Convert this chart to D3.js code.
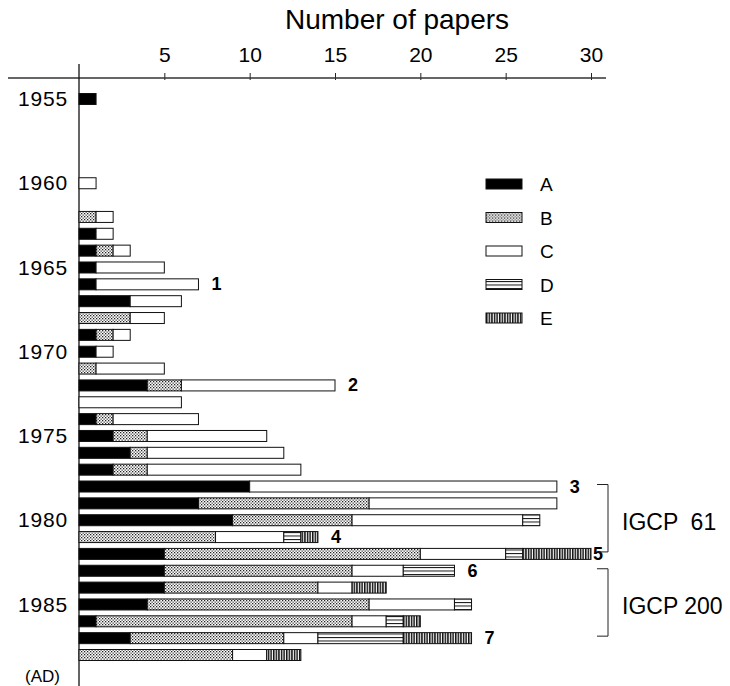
<!DOCTYPE html>
<html>
<head>
<meta charset="utf-8">
<script src="https://cdn.jsdelivr.net/npm/d3@7"></script>
<style>
  body { margin: 0; background: #fff; }
  svg { display: block; font-family: "Liberation Sans", Arial, sans-serif; }
</style>
</head>
<body>
<svg id="chart" width="730" height="686"></svg>
<script>
// papers per year, split by category
const years = [1955, 1960, 1962, 1963, 1964, 1965, 1966, 1967, 1968, 1969, 1970,
  1971, 1972, 1973, 1974, 1975, 1976, 1977, 1978, 1979, 1980,
  1981, 1982, 1983, 1984, 1985, 1986, 1987, 1988]
const catA = [1, 0, 0, 1, 1, 1, 1, 3, 0, 1, 1, 0, 4, 0, 1, 2, 3, 2, 10, 7, 9, 0, 5, 5, 5, 4, 1, 3, 0]
const catB = [0, 0, 1, 0, 1, 0, 0, 0, 3, 1, 0, 1, 2, 0, 1, 2, 1, 2, 0, 10, 7, 8, 15, 11, 9, 13, 15, 9, 9]
const catC = [0, 1, 1, 1, 1, 4, 6, 3, 2, 1, 1, 4, 9, 6, 5, 7, 8, 9, 18, 11, 10, 4, 5, 3, 2, 5, 2, 2, 2]
const catD = [0, 0, 0, 0, 0, 0, 0, 0, 0, 0, 0, 0, 0, 0, 0, 0, 0, 0, 0, 0, 1, 1, 1, 3, 0, 1, 1, 5, 0]
const catE = [0, 0, 0, 0, 0, 0, 0, 0, 0, 0, 0, 0, 0, 0, 0, 0, 0, 0, 0, 0, 0, 1, 4, 0, 2, 0, 1, 4, 2]
const categories = ['A', 'B', 'C', 'D', 'E']
const xTicks = [5, 10, 15, 20, 25, 30]
const yearTicks = [1955, 1960, 1965, 1970, 1975, 1980, 1985]
// numbered notes at the end of some bars
const notes = [
  { year: 1966, label: '1' }, { year: 1972, label: '2' }, { year: 1978, label: '3' },
  { year: 1981, label: '4' }, { year: 1982, label: '5' }, { year: 1983, label: '6' },
  { year: 1987, label: '7' }
]
const projects = [
  { name: 'IGCP  61', from: 1978, to: 1982 },
  { name: 'IGCP 200', from: 1983, to: 1987 }
]

const rows = years.map((yr, i) => ({ year: yr, A: catA[i], B: catB[i], C: catC[i], D: catD[i], E: catE[i] }))

const svg = d3.select('#chart')
const x = d3.scaleLinear().domain([0, 30]).range([79, 591])
const y = d3.scaleLinear().domain([1955, 1988]).range([99, 655])
const barH = 11

// fills
const defs = svg.append('defs')
const pB = defs.append('pattern').attr('id', 'pB').attr('patternUnits', 'userSpaceOnUse')
  .attr('width', 3).attr('height', 3)
pB.append('rect').attr('width', 3).attr('height', 3).attr('fill', '#fff')
pB.append('rect').attr('width', 1.3).attr('height', 1.3).attr('fill', '#222')
pB.append('rect').attr('x', 1.5).attr('y', 1.5).attr('width', 1.3).attr('height', 1.3).attr('fill', '#444')
const pD = defs.append('pattern').attr('id', 'pD').attr('patternUnits', 'userSpaceOnUse')
  .attr('width', 4).attr('height', 3.5)
pD.append('rect').attr('width', 4).attr('height', 3.5).attr('fill', '#fff')
pD.append('rect').attr('y', 0).attr('width', 4).attr('height', 1).attr('fill', '#111')
const pE = defs.append('pattern').attr('id', 'pE').attr('patternUnits', 'userSpaceOnUse')
  .attr('width', 2.6).attr('height', 4)
pE.append('rect').attr('width', 2.6).attr('height', 4).attr('fill', '#fff')
pE.append('rect').attr('width', 1.5).attr('height', 4).attr('fill', '#111')

const fills = { A: '#000', B: 'url(#pB)', C: '#fff', D: 'url(#pD)', E: 'url(#pE)' }

// title
svg.append('text').attr('x', 397).attr('y', 29).attr('text-anchor', 'middle')
  .attr('font-size', 28).text('Number of papers')

// top axis
const xAxis = svg.append('g').attr('transform', 'translate(0,78)')
  .call(d3.axisTop(x).tickValues(xTicks).tickSize(5).tickPadding(11))
xAxis.select('.domain').remove()
xAxis.selectAll('text').attr('font-size', 21).attr('font-family', 'Liberation Sans, Arial, sans-serif')
xAxis.selectAll('line').attr('stroke', '#222').attr('y2', -5).attr('y1', 2)
svg.append('line').attr('x1', 8).attr('x2', 606).attr('y1', 78).attr('y2', 78)
  .attr('stroke', '#333').attr('stroke-width', 1.5)

// left axis (years)
const yAxis = svg.append('g').attr('transform', 'translate(79,0)')
  .call(d3.axisLeft(y).tickValues(yearTicks).tickFormat(d3.format('d')).tickSize(0).tickPadding(11))
yAxis.select('.domain').remove()
yAxis.selectAll('text').attr('font-size', 21).attr('letter-spacing', 0.8)
  .attr('font-family', 'Liberation Sans, Arial, sans-serif')
svg.append('line').attr('x1', 79).attr('x2', 79).attr('y1', 64).attr('y2', 686)
  .attr('stroke', '#111').attr('stroke-width', 1.3)
svg.append('text').attr('x', 25).attr('y', 682).attr('font-size', 17).text('(AD)')

// stacked bars
const stacked = d3.stack().keys(categories)(rows)
svg.append('g').selectAll('g')
  .data(stacked)
  .join('g')
  .attr('fill', d => fills[d.key])
  .selectAll('rect')
  .data(d => d.filter(s => s[1] > s[0]))
  .join('rect')
  .attr('x', d => x(d[0]))
  .attr('width', d => x(d[1]) - x(d[0]))
  .attr('y', d => y(d.data.year) - barH / 2)
  .attr('height', barH)
  .attr('stroke', '#111')
  .attr('stroke-width', 1)

// notes
const totals = new Map(rows.map(r => [r.year, categories.reduce((s, k) => s + r[k], 0)]))
svg.append('g').selectAll('text')
  .data(notes)
  .join('text')
  .attr('x', d => x(totals.get(d.year)) + (d.label === '5' ? 2 : 13))
  .attr('y', d => y(d.year) + 6)
  .attr('font-size', 18)
  .attr('font-weight', 'bold')
  .text(d => d.label)

// project brackets
const br = svg.append('g').attr('fill', 'none').attr('stroke', '#222').attr('stroke-width', 1)
projects.forEach(p => {
  const y0 = y(p.from) - 2
  const y1 = y(p.to) - 2
  br.append('path').attr('d', `M597,${y0}H608V${y1}H597`)
  svg.append('text').attr('x', 622).attr('y', (y0 + y1) / 2 + 12)
    .attr('font-size', 23).text(p.name).style('white-space', 'pre')
})

// legend
const legend = svg.append('g').selectAll('g')
  .data(categories)
  .join('g')
  .attr('transform', (d, i) => `translate(486,${184 + i * 33.5})`)
legend.append('rect').attr('y', -5).attr('width', 36).attr('height', 10)
  .attr('fill', d => fills[d]).attr('stroke', '#111')
legend.append('text').attr('x', 54).attr('y', 7).attr('font-size', 19).text(d => d)
</script>
</body>
</html>
